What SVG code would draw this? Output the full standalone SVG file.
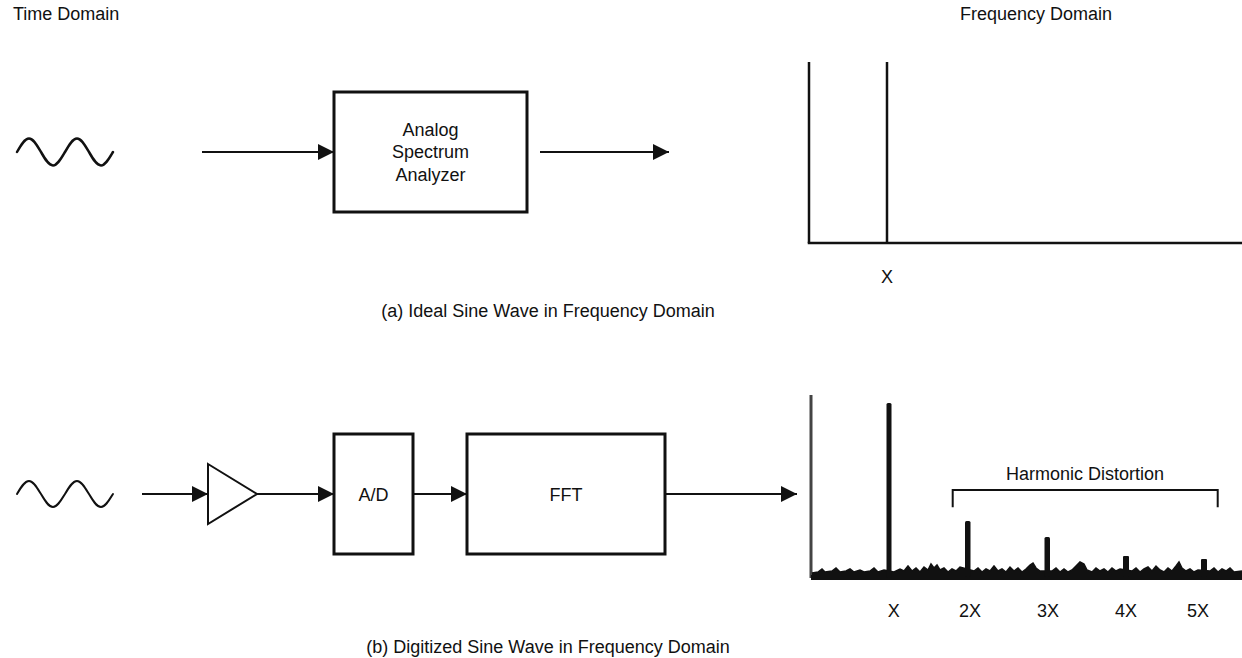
<svg xmlns="http://www.w3.org/2000/svg" width="1242" height="658" viewBox="0 0 1242 658">
<defs>
<style>
text{font-family:"Liberation Sans",Arial,sans-serif;font-size:18px;fill:#111}
.mid{text-anchor:middle}
.box{fill:#fff;stroke:#111;stroke-width:3}
.ln{fill:none;stroke:#111;stroke-width:2}
.ax{fill:none;stroke:#111;stroke-width:2.5}
.wave{fill:none;stroke:#111;stroke-width:2.5;stroke-linecap:round}
</style>
<marker id="ah" markerUnits="userSpaceOnUse" markerWidth="16" markerHeight="16" refX="16" refY="8" orient="auto">
<path d="M0,0 L16,8 L0,16 z" fill="#111"/>
</marker>
</defs>
<rect width="1242" height="658" fill="#fff"/>

<text x="13" y="20">Time Domain</text>
<text x="960" y="20">Frequency Domain</text>

<!-- (a) -->
<g id="sine-a">
<path class="wave" d="M17,152 c3.91,-6.92 7.66,-13.5 12,-13.5 c4.34,0 8.09,6.92 12,13.5 c3.91,6.92 7.66,13.5 12,13.5 c4.34,0 8.09,-6.92 12,-13.5 c3.91,-6.92 7.66,-13.5 12,-13.5 c4.34,0 8.09,6.92 12,13.5 c3.91,6.92 7.66,13.5 12,13.5 c4.34,0 8.09,-6.92 12,-13.5"/>
</g>
<g id="analyzer">
<rect class="box" x="334" y="92" width="193" height="120"/>
<text class="mid" x="430.5" y="135.5">Analog</text>
<text class="mid" x="430.5" y="158">Spectrum</text>
<text class="mid" x="430.5" y="180.5">Analyzer</text>
</g>
<g id="spectrum-a">
<line class="ax" x1="809" y1="62" x2="809" y2="243"/>
<line class="ax" x1="807.75" y1="243" x2="1242" y2="243"/>
<line class="ax" x1="887" y1="62" x2="887" y2="243"/>
<text class="mid" x="887" y="283">X</text>
</g>
<text class="mid" x="548" y="317">(a) Ideal Sine Wave in Frequency Domain</text>

<!-- (b) -->
<g id="sine-b">
<path class="wave" style="stroke-width:2" d="M17,494 c3.91,-6.66 7.66,-13 12,-13 c4.34,0 8.09,6.66 12,13 c3.91,6.66 7.66,13 12,13 c4.34,0 8.09,-6.66 12,-13 c3.91,-6.66 7.66,-13 12,-13 c4.34,0 8.09,6.66 12,13 c3.91,6.66 7.66,13 12,13 c4.34,0 8.09,-6.66 12,-13"/>
</g>
<g id="amplifier">
<polygon points="208,464 257,494 208,524" fill="#fff" stroke="#111" stroke-width="2"/>
</g>
<g id="adc">
<rect class="box" x="334" y="434" width="79" height="120"/>
<text class="mid" x="373.5" y="500.5">A/D</text>
</g>
<g id="fft">
<rect class="box" x="467" y="434" width="198" height="120"/>
<text class="mid" x="566" y="500.5">FFT</text>
</g>
<g id="spectrum-b">
<line x1="811" y1="395" x2="811" y2="578" stroke="#444" stroke-width="3"/>
<polygon fill="#111" points="812,580 812,573 818,572 822,569 825,572 832,571 836,568 840,572 846,571 850,569 854,572 860,570 864,572 870,571 874,568 878,572 884,570 894,572 900,569 904,571 908,566 912,571 916,568 920,572 924,567 928,570 931,564 934,568 937,565 940,570 944,568 948,572 952,569 956,571 960,567 974,571 978,568 982,572 986,569 990,571 994,566 998,571 1002,569 1006,572 1010,567 1014,571 1018,568 1022,572 1026,569 1030,565 1033,563 1036,568 1040,571 1052,571 1056,568 1060,572 1064,569 1068,572 1072,570 1076,566 1080,562 1084,564 1087,570 1092,572 1096,568 1100,571 1104,569 1108,572 1112,568 1116,571 1120,569 1132,571 1136,568 1140,572 1144,569 1148,567 1152,571 1156,566 1160,570 1164,572 1168,568 1172,571 1176,566 1179,562 1182,568 1186,571 1190,569 1194,572 1198,570 1210,571 1214,568 1218,572 1222,569 1226,571 1230,568 1234,572 1242,571 1242,580"/>
<polyline fill="none" stroke="#111" stroke-width="1.5" points="812,573 818,572 822,569 825,572 832,571 836,568 840,572 846,571 850,569 854,572 860,570 864,572 870,571 874,568 878,572 884,570 894,572 900,569 904,571 908,566 912,571 916,568 920,572 924,567 928,570 931,564 934,568 937,565 940,570 944,568 948,572 952,569 956,571 960,567 974,571 978,568 982,572 986,569 990,571 994,566 998,571 1002,569 1006,572 1010,567 1014,571 1018,568 1022,572 1026,569 1030,565 1033,563 1036,568 1040,571 1052,571 1056,568 1060,572 1064,569 1068,572 1072,570 1076,566 1080,562 1084,564 1087,570 1092,572 1096,568 1100,571 1104,569 1108,572 1112,568 1116,571 1120,569 1132,571 1136,568 1140,572 1144,569 1148,567 1152,571 1156,566 1160,570 1164,572 1168,568 1172,571 1176,566 1179,562 1182,568 1186,571 1190,569 1194,572 1198,570 1210,571 1214,568 1218,572 1222,569 1226,571 1230,568 1234,572 1242,571"/>
<rect x="811" y="575" width="431" height="5" fill="#111"/>
<rect x="886.5" y="403" width="5" height="175" rx="1.5" fill="#111"/>
<rect x="965" y="521" width="5.5" height="56" rx="1.5" fill="#111"/>
<rect x="1044.5" y="537" width="5.5" height="40" rx="1.5" fill="#111"/>
<rect x="1123" y="556" width="6" height="21" rx="1" fill="#111"/>
<rect x="1201" y="559" width="6" height="18" rx="1" fill="#111"/>
<path class="ln" d="M952.7,507.3 V490 H1217.7 V507.3"/>
<text class="mid" x="1085" y="480">Harmonic Distortion</text>
<text class="mid" x="893.7" y="616.5">X</text>
<text class="mid" x="970" y="616.5">2X</text>
<text class="mid" x="1048" y="616.5">3X</text>
<text class="mid" x="1126" y="616.5">4X</text>
<text class="mid" x="1198" y="616.5">5X</text>
</g>
<text class="mid" x="548" y="653">(b) Digitized Sine Wave in Frequency Domain</text>

<g id="connectors">
<line class="ln" x1="202" y1="152" x2="334" y2="152" marker-end="url(#ah)"/>
<line class="ln" x1="540" y1="152" x2="669" y2="152" marker-end="url(#ah)"/>
<line class="ln" x1="142" y1="494" x2="208" y2="494" marker-end="url(#ah)"/>
<line class="ln" x1="257" y1="494" x2="334" y2="494" marker-end="url(#ah)"/>
<line class="ln" x1="413" y1="494" x2="467" y2="494" marker-end="url(#ah)"/>
<line class="ln" x1="665" y1="494" x2="797" y2="494" marker-end="url(#ah)"/>
</g>
</svg>
